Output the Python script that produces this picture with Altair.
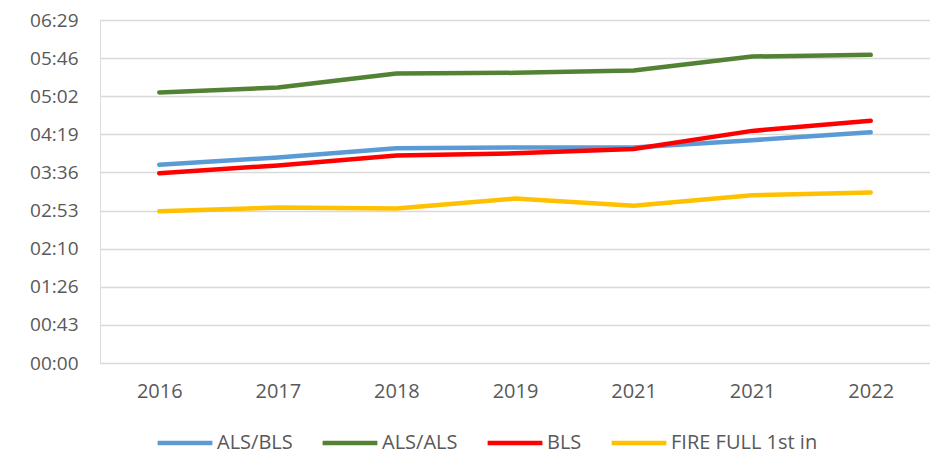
import json
import altair as alt
import pandas as pd

# ---- data (times in seconds) ----
years = ["2016", "2017", "2018", "2019", "2021", "2021", "2022"]
series = ["ALS/BLS", "ALS/ALS", "BLS", "FIRE FULL 1st in"]
als_bls = [224.7, 232.9, 243.3, 244.4, 244.4, 252.6, 261.5]
als_als = [306.6, 312.2, 328.1, 328.9, 331.5, 347.4, 349.3]
bls = [215.1, 224.0, 235.2, 237.7, 242.5, 263.1, 274.6]
fire = [171.9, 176.3, 175.2, 186.4, 178.2, 190.1, 193.4]
colors = ["#5B9BD5", "#548235", "#FF0000", "#FFC000"]
y_ticks = [0, 43.2, 86.4, 129.6, 172.8, 216.0, 259.2, 302.4, 345.6, 388.8]

rows = []
for name, vals in zip(series, [als_bls, als_als, bls, fire]):
    for i, v in enumerate(vals):
        rows.append({"idx": i, "series": name, "sec": v})
df = pd.DataFrame(rows)

FONT = "Open Sans"
GRAY = "#595959"
x_label_expr = json.dumps(years) + "[datum.value]"

chart = alt.Chart(df).mark_line(strokeWidth=4.5, strokeCap="round", strokeJoin="round").encode(
    x=alt.X("idx:O", title=None,
            axis=alt.Axis(labelExpr=x_label_expr, labelAngle=0, grid=False, domain=False,
                          ticks=False, labelFontSize=20, labelColor=GRAY, labelFont=FONT,
                          labelPadding=18)),
    y=alt.Y("sec:Q", title=None,
            scale=alt.Scale(domain=[0, 388.8], nice=False, zero=True),
            axis=alt.Axis(values=y_ticks, labelExpr="utcFormat(round(datum.value)*1000, '%M:%S')",
                          grid=True, gridColor="#D9D9D9", gridWidth=1.5, domain=False, ticks=False,
                          labelFontSize=19, labelColor=GRAY, labelFont=FONT, labelPadding=22)),
    color=alt.Color("series:N", title=None,
                    scale=alt.Scale(domain=series, range=colors),
                    legend=alt.Legend(orient="none", direction="horizontal", legendX=55, legendY=393,
                                      symbolType="stroke", symbolStrokeWidth=4.5, symbolSize=3000,
                                      labelFontSize=20, labelColor=GRAY, labelFont=FONT,
                                      labelOffset=2, columnPadding=20, padding=0)),
    order=alt.Order("idx:O"),
).properties(
    width=830, height=343,
    autosize=alt.AutoSizeParams(type="none"),
    padding={"left": 92, "top": 12, "right": 0, "bottom": 92},
).configure_view(stroke=None).configure(background="white")

chart.save("out.html", embed_options={"renderer": "svg", "actions": False})
